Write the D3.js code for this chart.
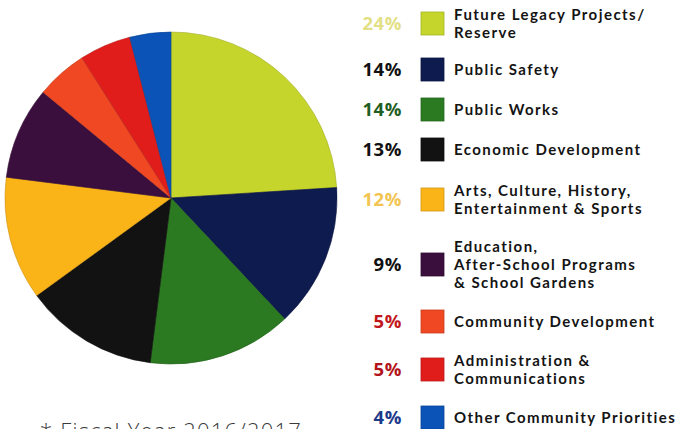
<!DOCTYPE html>
<html>
<head>
<meta charset="utf-8">
<script src="https://cdn.jsdelivr.net/npm/d3@7"></script>
<style>
  html, body { margin: 0; padding: 0; background: #fff; }
  svg { display: block; }
</style>
</head>
<body>
<svg id="chart" width="679" height="429"></svg>
<script>
// Budget allocation by category (percent of total)
const categories = [
  ["Future Legacy Projects/", "Reserve"],
  ["Public Safety"],
  ["Public Works"],
  ["Economic Development"],
  ["Arts, Culture, History,", "Entertainment & Sports"],
  ["Education,", "After-School Programs", "& School Gardens"],
  ["Community Development"],
  ["Administration &", "Communications"],
  ["Other Community Priorities"]
];
const values = [24, 14, 14, 13, 12, 9, 5, 5, 4];
const sliceColors = ["#c6d52b", "#0e1b4e", "#2b7a21", "#121212", "#fbb418", "#3b0f3d", "#ef4822", "#e11d1b", "#0b53b7"];
const pctColors = ["#e3df86", "#111111", "#1f5e1f", "#111111", "#f2c451", "#111111", "#c2161d", "#b3141b", "#1d3a8a"];
// Vertical centre of each legend row
const rowY = [24, 70, 110, 150, 200, 265, 322, 370, 418];
const footnote = "* Fiscal Year 2016/2017";

const svg = d3.select("#chart");

// Pie
const cx = 171, cy = 198, r = 166;
const pie = d3.pie().sort(null).value(d => d)(values);
const arc = d3.arc().innerRadius(0).outerRadius(r);
const g = svg.append("g").attr("transform", `translate(${cx},${cy})`);
g.selectAll("path")
  .data(pie)
  .join("path")
  .attr("d", arc)
  .attr("fill", (d, i) => sliceColors[i])
  .attr("stroke", (d, i) => d3.color(sliceColors[i]).darker(0.6))
  .attr("stroke-width", 0.6);

// Legend
const font = "'Open Sans', 'DejaVu Sans', sans-serif";
const labelFont = "Lato, 'Open Sans', sans-serif";
const lineH = 18;
const legend = svg.append("g");
const rows = legend.selectAll("g.row")
  .data(values)
  .join("g")
  .attr("class", "row")
  .attr("transform", (d, i) => `translate(0,${rowY[i]})`);

rows.append("text")
  .attr("x", 402)
  .attr("y", 0)
  .attr("dy", "0.35em")
  .attr("text-anchor", "end")
  .attr("font-family", font)
  .attr("font-weight", 700)
  .attr("font-size", 18.5)
  .attr("letter-spacing", 0.6)
  .attr("fill", (d, i) => pctColors[i])
  .text(d => d + "%");

rows.append("rect")
  .attr("x", 421)
  .attr("y", -12)
  .attr("width", 23)
  .attr("height", 23)
  .attr("fill", (d, i) => sliceColors[i])
  .attr("stroke", (d, i) => d3.color(sliceColors[i]).darker(0.5))
  .attr("stroke-width", 0.8);

rows.append("text")
  .attr("x", 454)
  .attr("font-family", labelFont)
  .attr("font-weight", 700)
  .attr("font-size", 15)
  .attr("letter-spacing", 1.45)
  .attr("fill", "#141414")
  .each(function(d, i) {
    const lines = categories[i];
    const t = d3.select(this);
    const y0 = -(lines.length - 1) * lineH / 2;
    lines.forEach((s, k) => {
      t.append("tspan")
        .attr("x", 454)
        .attr("y", y0 + k * lineH)
        .attr("dy", "0.35em")
        .text(s);
    });
  });

// Footnote
svg.append("text")
  .attr("x", 40)
  .attr("y", 439)
  .attr("font-family", font)
  .attr("font-weight", 300)
  .attr("font-size", 22)
  .attr("letter-spacing", 1.2)
  .attr("fill", "#3a3a3a")
  .text(footnote);
</script>
</body>
</html>
